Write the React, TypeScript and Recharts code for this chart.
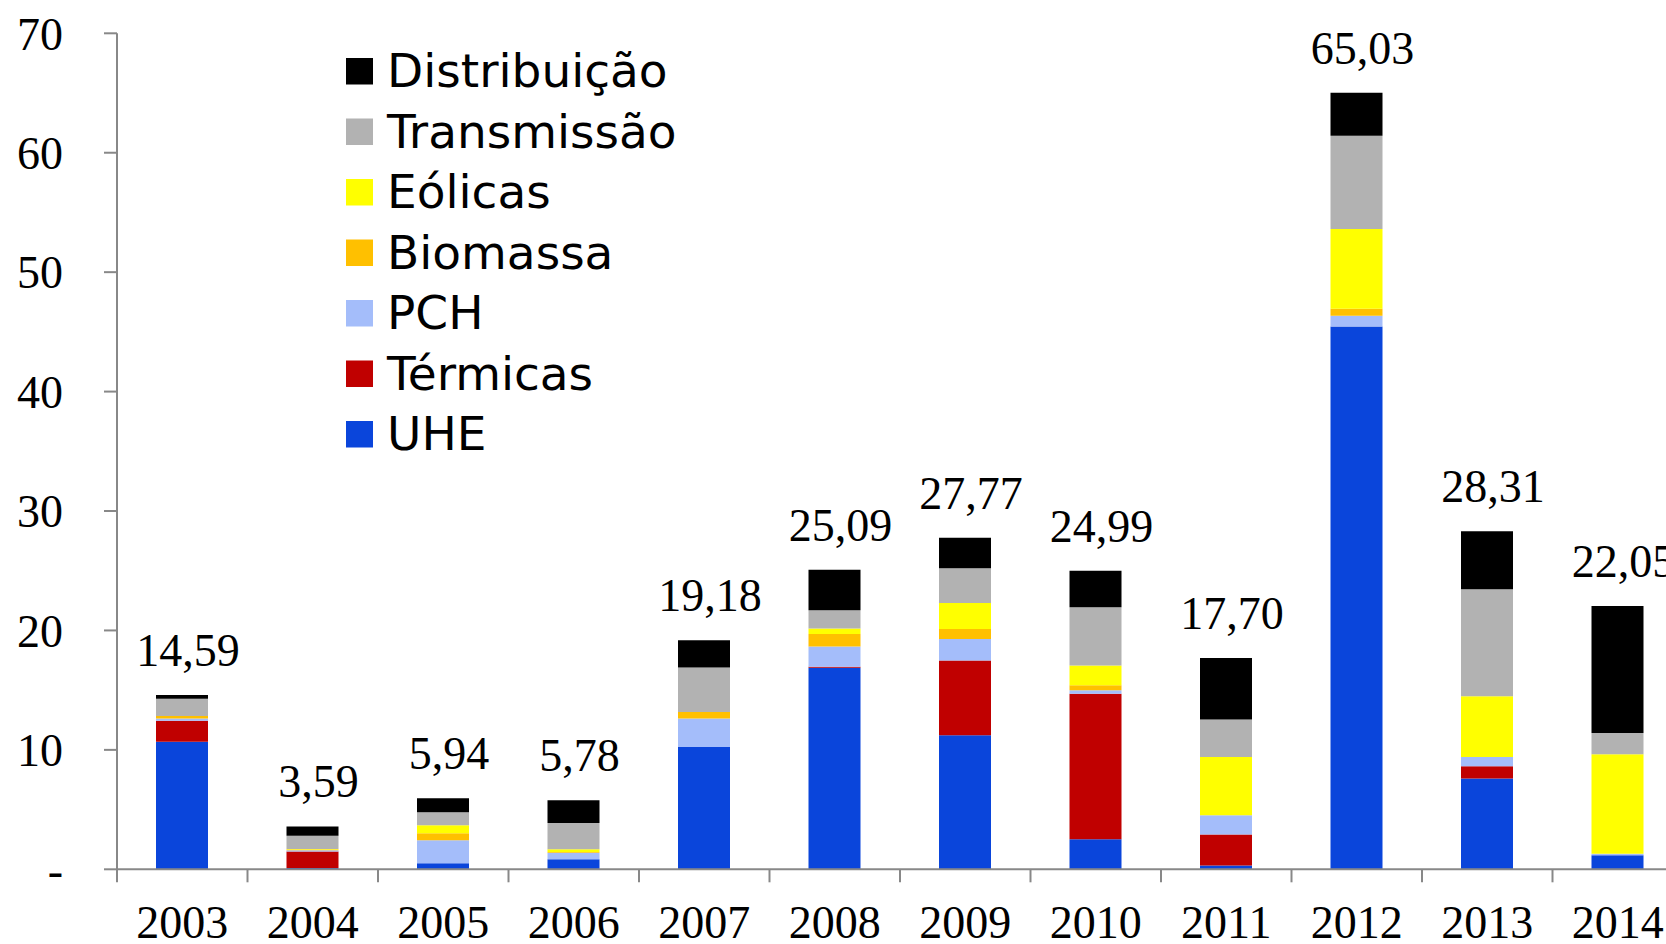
import React from 'react'
import { BarChart, Bar, XAxis, YAxis, Legend, LabelList } from 'recharts'

// valores (R$ bilhões), empilhados de baixo para cima
const anos = ['2003', '2004', '2005', '2006', '2007', '2008', '2009', '2010', '2011', '2012', '2013', '2014']
const uhe = [10.67, 0.1, 0.5, 0.84, 10.23, 16.87, 11.23, 2.51, 0.31, 45.46, 7.6, 1.17]
const termicas = [1.76, 1.4, 0, 0, 0, 0.08, 6.26, 12.18, 2.6, 0, 1.03, 0]
const pch = [0.2, 0.1, 1.93, 0.55, 2.4, 1.71, 1.79, 0.31, 1.62, 0.89, 0.78, 0.14]
const biomassa = [0.2, 0.05, 0.59, 0.05, 0.55, 1.05, 0.84, 0.42, 0, 0.59, 0, 0]
const eolicas = [0, 0.05, 0.67, 0.23, 0, 0.45, 2.18, 1.65, 4.88, 6.68, 5.09, 8.32]
const transmissao = [1.45, 1.1, 1.09, 2.2, 3.72, 1.54, 2.9, 4.87, 3.14, 7.8, 8.95, 1.79]
const distribuicao = [0.31, 0.79, 1.16, 1.91, 2.28, 3.39, 2.57, 3.05, 5.15, 3.61, 4.86, 10.63]
const totais = ['14,59', '3,59', '5,94', '5,78', '19,18', '25,09', '27,77', '24,99', '17,70', '65,03', '28,31', '22,05']
const yTicks = [0, 10, 20, 30, 40, 50, 60, 70]

const series = [
  { key: 'uhe', name: 'UHE', color: '#0a45db' },
  { key: 'termicas', name: 'Térmicas', color: '#c00000' },
  { key: 'pch', name: 'PCH', color: '#a4bdfa' },
  { key: 'biomassa', name: 'Biomassa', color: '#ffc000' },
  { key: 'eolicas', name: 'Eólicas', color: '#ffff00' },
  { key: 'transmissao', name: 'Transmissão', color: '#b2b2b2' },
  { key: 'distribuicao', name: 'Distribuição', color: '#000000' },
]

const data = anos.map((ano, i) => ({
  ano,
  uhe: uhe[i],
  termicas: termicas[i],
  pch: pch[i],
  biomassa: biomassa[i],
  eolicas: eolicas[i],
  transmissao: transmissao[i],
  distribuicao: distribuicao[i],
  total: totais[i],
}))

const SERIF = '"Liberation Serif", "Times New Roman", serif'
const AXIS = '#888888'
const BAND = 130.5
const LEG_PAD = 24

function YearTick({ x, y, payload }: any) {
  return (
    <g>
      <line x1={x - BAND / 2} x2={x - BAND / 2} y1={y - 37} y2={y - 24} stroke={AXIS} strokeWidth={2} />
      <text x={x} y={y - 1} dy="0.71em" textAnchor="middle" fill="#000" fontSize={46} fontFamily={SERIF}>
        {payload.value}
      </text>
    </g>
  )
}

function TotalLabel({ x, y, width, index }: any) {
  return (
    <text x={x + width / 2 + 6} y={y - 29} textAnchor="middle" fill="#000" fontSize={46} fontFamily={SERIF}>
      {totais[index]}
    </text>
  )
}

function Legenda() {
  const rows = [...series].reverse()
  return (
    <svg width={340} height={470}>
      {rows.map((s, i) => (
        <g key={s.key}>
          <rect x={0} y={LEG_PAD + i * 60.5} width={27} height={26.5} fill={s.color} />
          <text
            x={41}
            y={LEG_PAD + 29.4 + i * 60.5}
            fontSize={47}
            fontFamily='"DejaVu Sans", Verdana, sans-serif'
            fill="#000"
          >
            {s.name}
          </text>
        </g>
      ))}
    </svg>
  )
}

export default function App() {
  return (
    <div
      style={{
        position: 'absolute',
        left: 0,
        top: 0,
        width: 1666,
        height: 944,
        overflow: 'hidden',
        background: '#fff',
      }}
    >
      <BarChart
        width={1700}
        height={944}
        data={data}
        margin={{ top: 33.3, right: 17, bottom: 14.7, left: 0 }}
      >
        <XAxis
          dataKey="ano"
          height={60}
          axisLine={{ stroke: AXIS, strokeWidth: 2 }}
          tickLine={false}
          tickSize={13}
          tickMargin={24}
          interval={0}
          tick={<YearTick />}
        />
        <YAxis
          width={117}
          domain={[0, 70]}
          ticks={yTicks}
          interval={0}
          axisLine={{ stroke: AXIS, strokeWidth: 2 }}
          tickLine={{ stroke: AXIS, strokeWidth: 2 }}
          tickSize={13}
          tickMargin={41}
          tickFormatter={(v: number) => (v === 0 ? '-' : String(v))}
          tick={{ fill: '#000', fontSize: 46, fontFamily: SERIF }}
        />
        <Legend
          layout="vertical"
          align="center"
          verticalAlign="middle"
          content={<Legenda />}
          wrapperStyle={{ position: 'absolute', left: 346, top: 58 - LEG_PAD, width: 340, height: 470 }}
        />
        {series.map((s) => (
          <Bar
            key={s.key}
            dataKey={s.key}
            name={s.name}
            stackId="a"
            fill={s.color}
            barSize={52}
            isAnimationActive={false}
          >
            {s.key === 'distribuicao' && <LabelList dataKey="total" content={<TotalLabel />} />}
          </Bar>
        ))}
      </BarChart>
    </div>
  )
}
